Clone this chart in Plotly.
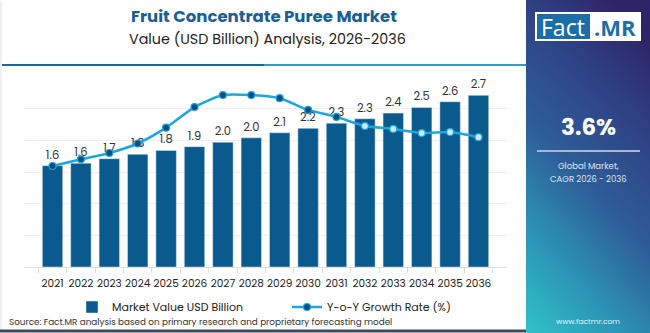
import plotly.graph_objects as go
import numpy as np

W, H = 650, 333

years = ["2021", "2022", "2023", "2024", "2025", "2026", "2027", "2028",
         "2029", "2030", "2031", "2032", "2033", "2034", "2035", "2036"]
market_value = [1.60, 1.64, 1.71, 1.78, 1.84, 1.90, 1.97, 2.04,
                2.12, 2.19, 2.27, 2.34, 2.43, 2.52, 2.61, 2.71]
yoy_growth = [3.19, 3.40, 3.60, 3.90, 4.40, 5.05, 5.43, 5.43,
              5.33, 4.96, 4.74, 4.45, 4.36, 4.23, 4.26, 4.10]
marker_fill = ["#0d4f83"] * 11 + ["#cfeaf7"] * 5

title = "Fruit Concentrate Puree Market"
subtitle = "Value (USD Billion) Analysis, 2026-2036"
cagr = "3.6%"
source = "Source: Fact.MR analysis based on primary research and proprietary forecasting model"

FONT = "Poppins, 'Open Sans', Lato, sans-serif"


def px(x):
    return x / W


def py(y):
    return 1 - y / H


fig = go.Figure()

# gradient side panel via heatmap
gx = np.linspace(0, 1, 30)
gy = np.linspace(0, 1, 60)
GX, GY = np.meshgrid(gx, gy)
Z = np.clip(0.78 * GY + 0.32 * GX, 0, 1)
fig.add_trace(go.Heatmap(
    x=gx, y=gy, z=Z, xaxis="x3", yaxis="y3", zmin=0, zmax=1,
    colorscale=[[0, "#2fc3c9"], [0.25, "#2c94b4"], [0.5, "#2e5e98"],
                [0.8, "#2e3f82"], [1, "#2e2568"]],
    showscale=False, zsmooth="best", hoverinfo="skip", showlegend=False))

fig.add_trace(go.Bar(
    x=years, y=market_value, name="Market Value USD Billion",
    marker=dict(color="#0a5a8e"),
    texttemplate="%{y:.1f}", textposition="outside",
    textfont=dict(size=11.5, color="#333333", family=FONT),
    cliponaxis=False, legend="legend"))

fig.add_trace(go.Scatter(
    x=years, y=yoy_growth, name="Y-o-Y Growth Rate (%)", yaxis="y2",
    mode="lines+markers",
    line=dict(color="#1ca6de", width=2.5, shape="spline", smoothing=0.6),
    marker=dict(size=7, color=marker_fill, line=dict(color="#1ca6de", width=1.2)),
    cliponaxis=False, legend="legend2"))

fig.update_layout(
    width=W, height=H,
    margin=dict(l=0, r=0, t=0, b=0),
    paper_bgcolor="white", plot_bgcolor="rgba(0,0,0,0)",
    font=dict(family=FONT, color="#222222"),
    bargap=0.28,
    showlegend=True,
    xaxis=dict(domain=[px(24), px(507)], type="category",
               showline=True, linecolor="#dddddd", linewidth=1,
               ticks="outside", tickson="boundaries", ticklen=5, tickcolor="#dddddd",
               tickfont=dict(size=10.5, color="#222222", family=FONT),
               tickangle=0, ticklabelstandoff=6, automargin=False, showgrid=False),
    yaxis=dict(domain=[py(267), py(77)], range=[0, 3.0], dtick=0.5,
               showgrid=True, gridcolor="#efefef", gridwidth=1,
               showticklabels=False, zeroline=False, automargin=False),
    yaxis2=dict(overlaying="y", range=[0, 6], showgrid=False,
                showticklabels=False, zeroline=False, automargin=False),
    xaxis3=dict(domain=[px(526), 1], range=[0, 1], visible=False, fixedrange=True),
    yaxis3=dict(domain=[0, 1], range=[0, 1], visible=False, anchor="x3", fixedrange=True),
    legend=dict(orientation="h", x=px(72), y=py(307), xanchor="left", yanchor="middle",
                font=dict(size=11, color="#222222", family=FONT),
                bgcolor="rgba(0,0,0,0)", itemwidth=30),
    legend2=dict(orientation="h", x=px(287), y=py(307), xanchor="left", yanchor="middle",
                 font=dict(size=11, color="#222222", family=FONT),
                 bgcolor="rgba(0,0,0,0)", itemwidth=30),
)

shapes = [
    # left border
    dict(type="line", xref="paper", yref="paper", x0=px(1), x1=px(1), y0=py(2), y1=py(330),
         line=dict(color="#e2e2e2", width=1)),
    # title underline
    dict(type="line", xref="paper", yref="paper", x0=px(2), x1=px(264), y0=py(65), y1=py(65),
         line=dict(color="#1f659c", width=2)),
    dict(type="line", xref="paper", yref="paper", x0=px(264), x1=px(526), y0=py(65), y1=py(65),
         line=dict(color="#3b97c8", width=2)),
    # bottom border
    dict(type="line", xref="paper", yref="paper", x0=0, x1=px(526), y0=py(331), y1=py(331),
         line=dict(color="#3d4b5e", width=3)),
    # logo
    dict(type="rect", xref="paper", yref="paper", x0=px(535), x1=px(641), y0=py(12), y1=py(41),
         fillcolor="white", line=dict(width=0)),
    dict(type="rect", xref="paper", yref="paper", x0=px(537), x1=px(590), y0=py(14), y1=py(39),
         fillcolor="#1b6fa6", line=dict(width=0)),
    # divider under CAGR
    dict(type="line", xref="paper", yref="paper", x0=px(537), x1=px(640), y0=py(151), y1=py(151),
         line=dict(color="#a9b7d6", width=2)),
]
fig.update_layout(shapes=shapes)

ann = [
    dict(text="<b>" + title + "</b>", x=px(264), y=py(16), font=dict(size=16.5, color="#1a5f94")),
    dict(text=subtitle, x=px(267), y=py(39), font=dict(size=14.3, color="#222222")),
    dict(text="Fact", x=px(563), y=py(26.5), font=dict(size=23, color="white", family="'Open Sans', sans-serif")),
    dict(text="<b>.MR</b>", x=px(615), y=py(26.5), font=dict(size=22, color="#1b6fa6", family="'Open Sans', sans-serif")),
    dict(text="<b>" + cagr + "</b>", x=px(588), y=py(127), font=dict(size=23, color="white")),
    dict(text="Global Market,", x=px(588), y=py(166), font=dict(size=8.5, color="#dfe6f4")),
    dict(text="CAGR 2026 - 2036", x=px(588), y=py(179), font=dict(size=8.5, color="#dfe6f4")),
    dict(text="www.factmr.com", x=px(588), y=py(321), font=dict(size=7.5, color="#e8f0f8")),
    dict(text=source, x=px(7), y=py(322), xanchor="left", font=dict(size=8.8, color="#333333")),
]
for a in ann:
    a.setdefault("xanchor", "center")
    a.update(xref="paper", yref="paper", yanchor="middle", showarrow=False)
    a["font"].setdefault("family", FONT)
fig.update_layout(annotations=ann)

fig.write_html("out.html")
